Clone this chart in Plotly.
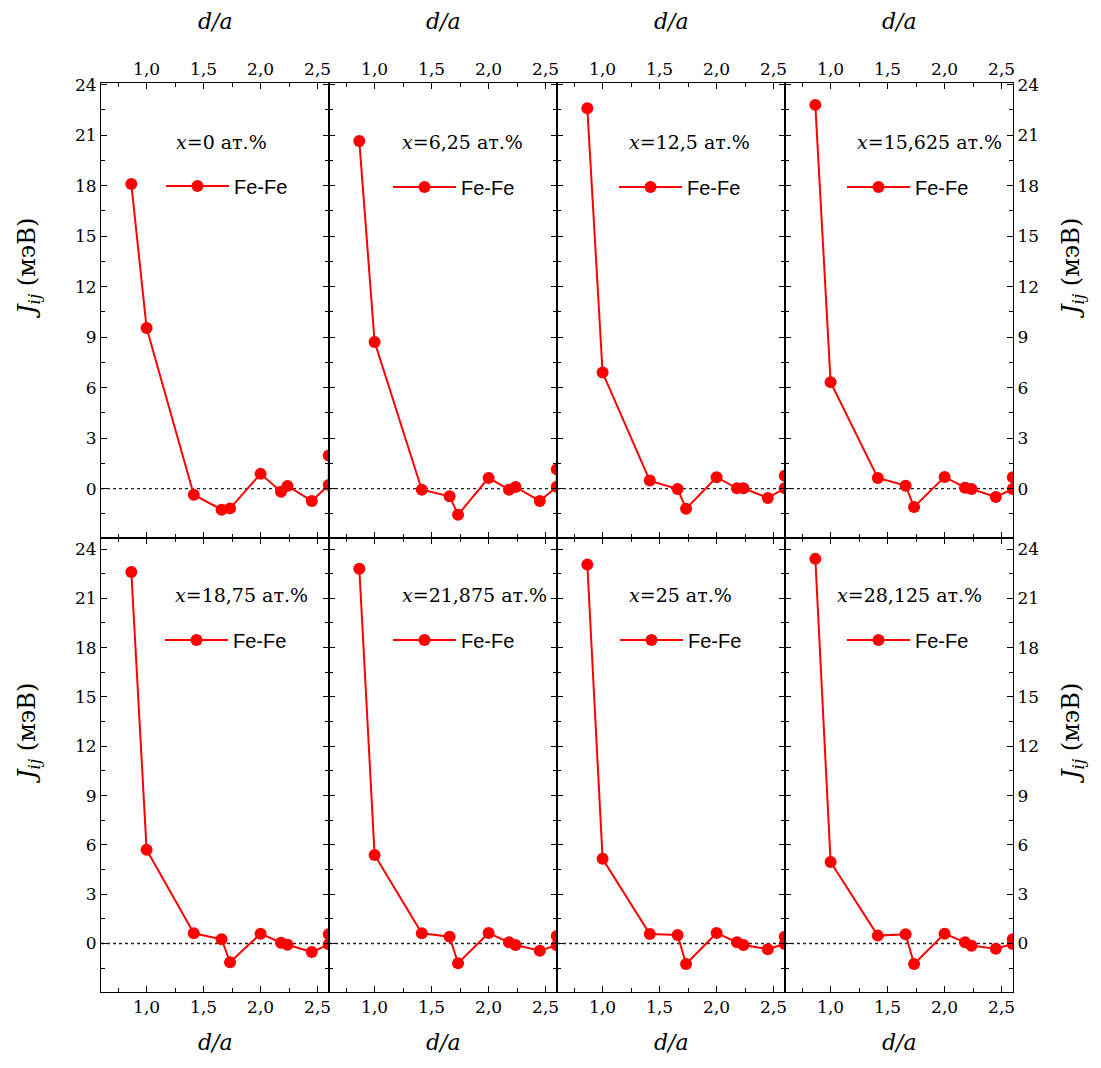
import plotly.graph_objects as go
from plotly.subplots import make_subplots

# ---------------- data ----------------
DIST = [0.866, 1.0, 1.414, 1.658, 1.732, 2.0, 2.179, 2.236, 2.449, 2.598, 2.598]

CONC_LABELS = ["0", "6,25", "12,5", "15,625", "18,75", "21,875", "25", "28,125"]

J_0 = [18.1, 9.55, -0.36, -1.25, -1.17, 0.88, -0.18, 0.16, -0.73, 0.22, 1.97]
J_6_25 = [20.65, 8.72, -0.06, -0.45, -1.55, 0.64, -0.06, 0.10, -0.73, 0.12, 1.16]
J_12_5 = [22.6, 6.9, 0.48, -0.02, -1.19, 0.68, 0.02, 0.02, -0.55, 0.02, 0.77]
J_15_625 = [22.8, 6.33, 0.64, 0.18, -1.09, 0.70, 0.06, -0.02, -0.49, -0.02, 0.68]
J_18_75 = [22.6, 5.7, 0.62, 0.26, -1.14, 0.60, 0.05, -0.07, -0.52, -0.05, 0.56]
J_21_875 = [22.8, 5.39, 0.62, 0.41, -1.20, 0.64, 0.07, -0.09, -0.44, -0.11, 0.46]
J_25 = [23.05, 5.15, 0.58, 0.52, -1.25, 0.64, 0.07, -0.09, -0.35, -0.03, 0.41]
J_28_125 = [23.4, 4.96, 0.48, 0.56, -1.25, 0.60, 0.07, -0.13, -0.32, -0.03, 0.26]

SERIES = [J_0, J_6_25, J_12_5, J_15_625, J_18_75, J_21_875, J_25, J_28_125]

# ---------------- layout geometry ----------------
OFF = 8  # page body margin
W, H = 1101 - OFF, 1068 - OFF
ML, MR, MT, MB = 101 - OFF, 88, 83 - OFF, 76
PW = W - ML - MR
PH = H - MT - MB


def px_x(p):
    return (p - OFF - ML) / PW


def px_y(p):
    return (H - MB - (p - OFF)) / PH


SERIF = "DejaVu Serif"
SANS = "Liberation Sans, Arial, sans-serif"
RED = "#ff0000"

fig = make_subplots(rows=2, cols=4, horizontal_spacing=0, vertical_spacing=0)

title_cx = [221, 462, 689, 929, 241, 474, 680, 909]
title_cy = [142, 142, 142, 142, 595, 595, 595, 595]
leg_x0 = [170, 397, 623, 851, 169, 397, 624, 851]
leg_cy = [186, 187, 187, 187, 640, 640, 640, 640]

for i, J in enumerate(SERIES):
    r = i // 4 + 1
    c = i % 4 + 1
    lg = "legend" if i == 0 else f"legend{i+1}"
    fig.add_trace(
        go.Scatter(
            x=DIST, y=J, mode="lines+markers", name="Fe-Fe",
            line=dict(color=RED, width=2),
            marker=dict(color=RED, size=12),
            legend=lg, showlegend=True,
        ),
        row=r, col=c,
    )
    fig.update_layout({
        lg: dict(
            x=px_x(leg_x0[i] - 9), y=px_y(leg_cy[i]),
            xanchor="left", yanchor="middle",
            bgcolor="rgba(0,0,0,0)", borderwidth=0,
            font=dict(family=SANS, size=20, color="black"),
            itemwidth=63,
        )
    })
    fig.add_annotation(
        x=px_x(title_cx[i]), y=px_y(title_cy[i]), xref="paper", yref="paper",
        text=f"<i>x</i>={CONC_LABELS[i]} ат.%", showarrow=False,
        xanchor="center", yanchor="middle",
        font=dict(family=SERIF, size=19, color="black"),
    )
    idx = "" if i == 0 else str(i + 1)
    fig.add_shape(
        type="line", xref=f"x{idx} domain", yref=f"y{idx}",
        x0=0, x1=1, y0=0, y1=0,
        line=dict(color="#222222", width=1.3, dash="dot"),
        layer="below",
    )

    xa = dict(
        range=[0.6, 2.6], tick0=0, dtick=0.5, tickformat=".1f",
        ticks="inside", ticklen=6, tickwidth=1.2, tickcolor="black",
        minor=dict(dtick=0.25, tick0=0, ticks="inside", ticklen=4,
                   tickwidth=1.2, tickcolor="black", showgrid=False),
        showline=True, linecolor="black", linewidth=1, mirror="allticks",
        showgrid=False, zeroline=False,
        side="top" if r == 1 else "bottom",
        showticklabels=True,
        tickfont=dict(family=SERIF, size=17, color="black"),
    )
    ya = dict(
        range=[-2.9, 24.1] if r == 1 else [-2.95, 24.7],
        tick0=0, dtick=3,
        ticks="inside", ticklen=6, tickwidth=1.2, tickcolor="black",
        minor=dict(dtick=1.5, tick0=0, ticks="inside", ticklen=4,
                   tickwidth=1.2, tickcolor="black", showgrid=False),
        showline=True, linecolor="black", linewidth=1, mirror="allticks",
        showgrid=False, zeroline=False,
        side="right" if c == 4 else "left",
        showticklabels=(c == 1 or c == 4),
        tickfont=dict(family=SERIF, size=17, color="black"),
    )
    fig.update_xaxes(xa, row=r, col=c)
    fig.update_yaxes(ya, row=r, col=c)

panel_cx = [101 + 912 * (k + 0.5) / 4 for k in range(4)]
for cx in panel_cx:
    for cy in (22, 1042):
        fig.add_annotation(
            x=px_x(cx), y=px_y(cy), xref="paper", yref="paper",
            text="<i>d/a</i>", showarrow=False, xanchor="center", yanchor="middle",
            font=dict(family=SERIF, size=22, color="black"),
        )
for cx in (28, 1072):
    for cy in (269, 734):
        fig.add_annotation(
            x=px_x(cx), y=px_y(cy), xref="paper", yref="paper",
            text="<i>J<sub>ij</sub></i> (мэВ)", showarrow=False, textangle=-90,
            xanchor="center", yanchor="middle",
            font=dict(family=SERIF, size=24, color="black"),
        )

fig.update_layout(
    width=W, height=H,
    margin=dict(l=ML, r=MR, t=MT, b=MB, autoexpand=False),
    paper_bgcolor="white", plot_bgcolor="white",
    separators=", ",
    font=dict(family=SERIF, color="black"),
)

fig.write_html("out.html")
